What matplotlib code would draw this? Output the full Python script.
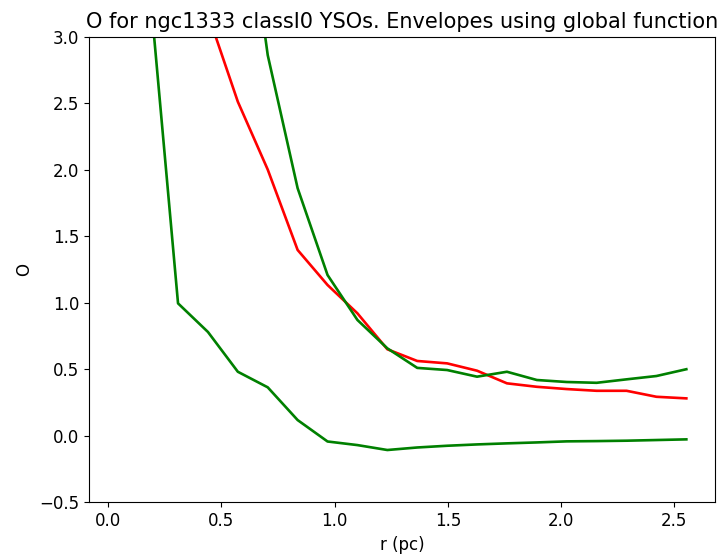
import numpy as np
import matplotlib
matplotlib.use("Agg")
import matplotlib.pyplot as plt

# radius bins (pc)
r = [0.177, 0.309, 0.441, 0.573, 0.705, 0.837, 0.969, 1.101, 1.233, 1.365,
     1.497, 1.629, 1.761, 1.893, 2.025, 2.157, 2.289, 2.421, 2.553]

# O values, first points run off the top of the plot
O_mid = [5.5, 4.2, 3.17, 2.51, 2.0, 1.396, 1.133, 0.92, 0.65, 0.562,
         0.544, 0.489, 0.394, 0.368, 0.351, 0.338, 0.338, 0.293, 0.281]
O_upper = [9.0, 7.0, 5.5, 4.5, 2.86, 1.86, 1.208, 0.87, 0.657, 0.51,
           0.494, 0.444, 0.481, 0.419, 0.404, 0.398, 0.424, 0.449, 0.50]
O_lower = [3.5, 0.995, 0.78, 0.481, 0.364, 0.118, -0.043, -0.07, -0.107, -0.088,
           -0.075, -0.065, -0.057, -0.05, -0.042, -0.04, -0.037, -0.032, -0.027]

fig = plt.figure(figsize=(7.26, 5.59), dpi=100)
ax = fig.add_axes([0.1226, 0.1014, 0.8624, 0.8333])

ax.plot(r, O_mid, color='r', lw=1.9)
ax.plot(r, O_upper, color='g', lw=1.9)
ax.plot(r, O_lower, color='g', lw=1.9)

ax.set_ylim(-0.5, 3.0)
ax.set_xlim(-0.084, 2.68)
ax.set_xticks([0.0, 0.5, 1.0, 1.5, 2.0, 2.5])
ax.tick_params(labelsize=12)
ax.set_xlabel('r (pc)', fontsize=12)
ax.set_ylabel('O', fontsize=12)
ax.set_title('O for ngc1333 classI0 YSOs. Envelopes using global function', fontsize=15)

fig.savefig('out.png', dpi=100)
